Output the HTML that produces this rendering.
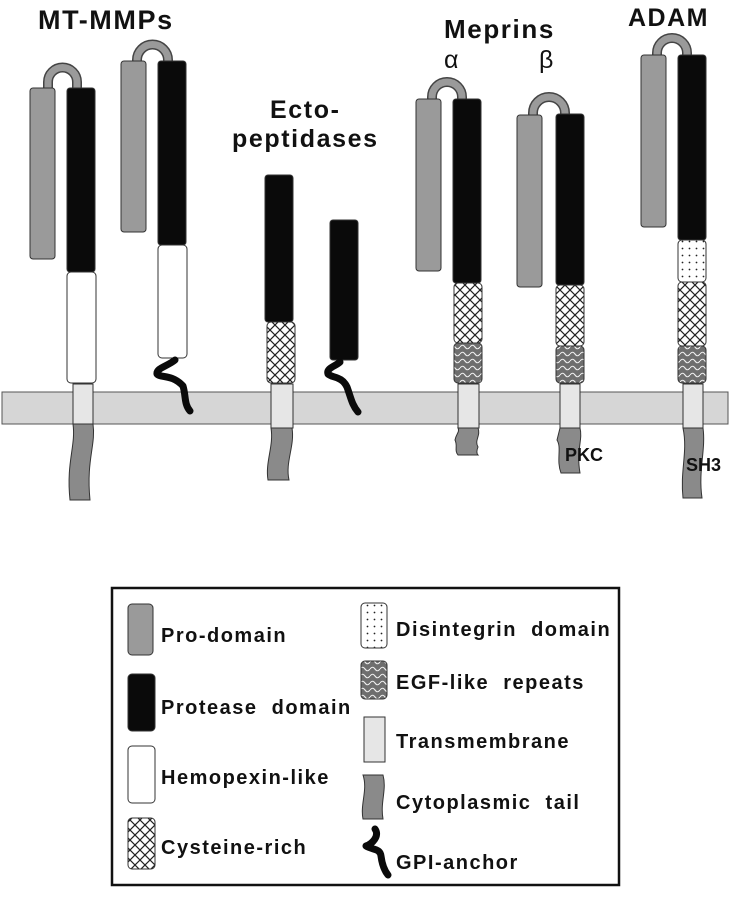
<!DOCTYPE html>
<html><head><meta charset="utf-8"><style>
html,body{margin:0;padding:0;background:#fff;}
svg{display:block;}
text{font-family:"Liberation Sans",sans-serif;font-weight:bold;fill:#111;}
</style></head><body>
<svg width="731" height="899" viewBox="0 0 731 899" xmlns="http://www.w3.org/2000/svg">
<defs>
<pattern id="cross" width="10" height="10" patternUnits="userSpaceOnUse">
<rect width="10" height="10" fill="#fff"/>
<path d="M0,0 L10,10 M10,0 L0,10" stroke="#222" stroke-width="1.2"/>
</pattern>
<pattern id="dots" width="7" height="7" patternUnits="userSpaceOnUse">
<rect width="7" height="7" fill="#fff"/>
<circle cx="3.5" cy="3.5" r="0.9" fill="#222"/>
</pattern>
<pattern id="wave" width="10" height="7" patternUnits="userSpaceOnUse">
<rect width="10" height="7" fill="#6e6e6e"/>
<path d="M0,4 Q2.5,0.5 5,4 T10,4" stroke="#eee" stroke-width="1.1" fill="none"/>
</pattern>
</defs>

<!-- titles -->
<text x="38" y="29" font-size="27" letter-spacing="1.6">MT-MMPs</text>
<text x="270" y="118" font-size="25" letter-spacing="1.6">Ecto-</text>
<text x="232" y="147" font-size="25" letter-spacing="1.6">peptidases</text>
<text x="444" y="38" font-size="26" letter-spacing="1.6">Meprins</text>
<text x="444" y="68" font-size="25" style="font-weight:normal">α</text>
<text x="539" y="68" font-size="25" style="font-weight:normal">β</text>
<text x="628" y="26" font-size="25" letter-spacing="1.5">ADAM</text>

<!-- membrane -->
<rect x="2" y="392" width="726" height="32" fill="#d6d6d6" stroke="#555" stroke-width="1"/>

<!-- loops -->
<g fill="none" stroke-linecap="butt">
<g stroke="#444" stroke-width="10">
<path d="M48,90 L48,82 A14.5,14.5 0 0 1 77,82 L77,90"/>
<path d="M137,64 L137,60 A15.5,15.5 0 0 1 168,60 L168,64"/>
<path d="M432,102 L432,97 A15,15 0 0 1 462,97 L462,102"/>
<path d="M533,118 L533,113 A16,16 0 0 1 565,113 L565,118"/>
<path d="M657,58 L657,53 A15,15 0 0 1 687,53 L687,58"/>
</g>
<g stroke="#9a9a9a" stroke-width="7">
<path d="M48,90 L48,82 A14.5,14.5 0 0 1 77,82 L77,90"/>
<path d="M137,64 L137,60 A15.5,15.5 0 0 1 168,60 L168,64"/>
<path d="M432,102 L432,97 A15,15 0 0 1 462,97 L462,102"/>
<path d="M533,118 L533,113 A16,16 0 0 1 565,113 L565,118"/>
<path d="M657,58 L657,53 A15,15 0 0 1 687,53 L687,58"/>
</g>
</g>

<g stroke="#333" stroke-width="1">
<g fill="#8a8a8a">
<path d="M73,424 L93,424 C96,445 86,460 90,500 L70,500 C66,462 76,446 73,424 Z"/>
<path d="M271,428 L292,428 C295,446 285,462 289,480 L268,480 C265,462 274,446 271,428 Z"/>
<path d="M458,428 L478,428 C481,436 474,440 478,447 C476,452 477,454 478,455 L458,455 C454,450 458,446 455,440 C456,434 460,432 458,428 Z"/>
<path d="M560,428 L580,428 C583,440 576,450 580,473 L561,473 C556,460 562,448 557,440 Z"/>
<path d="M683,428 L703,428 C706,450 698,470 702,498 L683,498 C680,470 688,452 683,428 Z"/>
</g>
<rect x="30" y="88" width="25" height="171" rx="3" fill="#9a9a9a"/>
<rect x="67" y="88" width="28" height="184" rx="3" fill="#0a0a0a"/>
<rect x="67" y="272" width="29" height="111" rx="4" fill="#fff"/>
<rect x="73" y="384" width="20" height="40" fill="#e6e6e6"/>
<rect x="121" y="61" width="25" height="171" rx="3" fill="#9a9a9a"/>
<rect x="158" y="61" width="28" height="184" rx="3" fill="#0a0a0a"/>
<rect x="158" y="245" width="29" height="113" rx="4" fill="#fff"/>
<rect x="265" y="175" width="28" height="147" rx="3" fill="#0a0a0a"/>
<rect x="267" y="322" width="28" height="61" rx="4" fill="url(#cross)"/>
<rect x="271" y="384" width="22" height="44" fill="#e6e6e6"/>
<rect x="330" y="220" width="28" height="140" rx="3" fill="#0a0a0a"/>
<rect x="416" y="99" width="25" height="172" rx="3" fill="#9a9a9a"/>
<rect x="453" y="99" width="28" height="184" rx="3" fill="#0a0a0a"/>
<rect x="454" y="283" width="28" height="60" rx="4" fill="url(#cross)"/>
<rect x="454" y="343" width="28" height="40" rx="4" fill="url(#wave)"/>
<rect x="458" y="384" width="21" height="44" fill="#e6e6e6"/>
<rect x="517" y="115" width="25" height="172" rx="3" fill="#9a9a9a"/>
<rect x="556" y="114" width="28" height="171" rx="3" fill="#0a0a0a"/>
<rect x="556" y="285" width="28" height="61" rx="4" fill="url(#cross)"/>
<rect x="556" y="346" width="28" height="37" rx="4" fill="url(#wave)"/>
<rect x="560" y="384" width="20" height="44" fill="#e6e6e6"/>
<rect x="641" y="55" width="25" height="172" rx="3" fill="#9a9a9a"/>
<rect x="678" y="55" width="28" height="185" rx="3" fill="#0a0a0a"/>
<rect x="678" y="240" width="28" height="42" rx="4" fill="url(#dots)"/>
<rect x="678" y="282" width="28" height="64" rx="4" fill="url(#cross)"/>
<rect x="678" y="346" width="28" height="37" rx="4" fill="url(#wave)"/>
<rect x="683" y="384" width="20" height="44" fill="#e6e6e6"/>
</g>

<g fill="none" stroke="#0a0a0a" stroke-width="7" stroke-linecap="round" stroke-linejoin="round">
<path d="M175,360 C168,366 156,368 157,374 C160,378 172,374 183,386 C186,396 184,404 190,411"/>
<path d="M340,362 C336,366 326,368 328,374 C332,378 342,376 347,387 C351,398 352,405 358,412"/>
<path d="M375,829 C380,836 372,844 366,846 C372,850 380,848 381,856 C382,864 384,870 388,875"/>
</g>

<text x="565" y="461" font-size="18">PKC</text>
<text x="686" y="471" font-size="18">SH3</text>

<rect x="112" y="588" width="507" height="297" fill="none" stroke="#111" stroke-width="2.5"/>
<g stroke="#333" stroke-width="1">
<rect x="128" y="604" width="25" height="51" rx="4" fill="#9a9a9a"/>
<rect x="128" y="674" width="27" height="57" rx="4" fill="#0a0a0a"/>
<rect x="128" y="746" width="27" height="57" rx="4" fill="#fff"/>
<rect x="128" y="818" width="27" height="51" rx="4" fill="url(#cross)"/>
<rect x="361" y="603" width="26" height="45" rx="4" fill="url(#dots)"/>
<rect x="361" y="661" width="26" height="38" rx="4" fill="url(#wave)"/>
<rect x="364" y="717" width="21" height="45" fill="#e6e6e6"/>
<path d="M363,775 L383,775 C387,790 380,802 383,819 L363,819 C360,804 368,790 363,775 Z" fill="#8a8a8a"/>
</g>
<g font-size="20" letter-spacing="1.5">
<text x="161" y="642">Pro-domain</text>
<text x="161" y="714" xml:space="preserve">Protease  domain</text>
<text x="161" y="784">Hemopexin-like</text>
<text x="161" y="854">Cysteine-rich</text>
<text x="396" y="636" xml:space="preserve">Disintegrin  domain</text>
<text x="396" y="689" xml:space="preserve">EGF-like  repeats</text>
<text x="396" y="748">Transmembrane</text>
<text x="396" y="809" xml:space="preserve">Cytoplasmic  tail</text>
<text x="396" y="869">GPI-anchor</text>
</g>
</svg>
</body></html>
